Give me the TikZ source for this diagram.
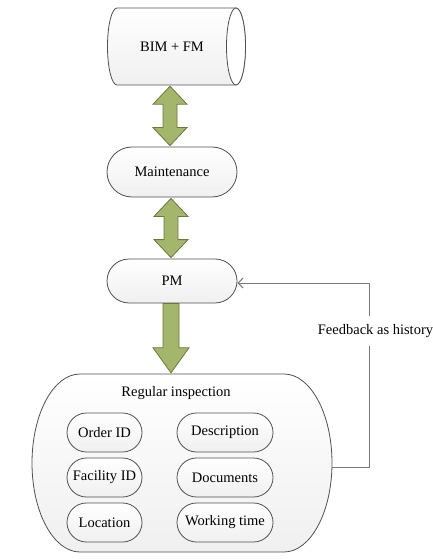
\documentclass[tikz,border=0pt]{standalone}
\usepackage{fontspec}
\setmainfont{Liberation Serif}
\usetikzlibrary{calc,arrows.meta}
\definecolor{arrfill}{RGB}{163,182,107}
\definecolor{arrdraw}{RGB}{105,120,60}
\definecolor{edge}{RGB}{80,80,80}
\definecolor{fbgray}{RGB}{120,120,120}
\newcommand{\dblarr}[2]{%
  \filldraw[arr] let \p1=(#1), \p2=(#2) in
  (\x1,\y1) -- (\x1+17bp,\y1-18bp) -- (\x1+7bp,\y1-18bp) -- (\x1+7bp,\y2+18bp)
  -- (\x1+17bp,\y2+18bp) -- (\x1,\y2) -- (\x1-17bp,\y2+18bp) -- (\x1-7bp,\y2+18bp)
  -- (\x1-7bp,\y1-18bp) -- (\x1-17bp,\y1-18bp) -- cycle;}
\newcommand{\sglarr}[2]{%
  \filldraw[arr] let \p1=(#1), \p2=(#2) in
  (\x1-8bp,\y1) -- (\x1+8bp,\y1) -- (\x1+8bp,\y2+25bp) -- (\x1+18bp,\y2+25bp)
  -- (\x1,\y2) -- (\x1-18bp,\y2+25bp) -- (\x1-8bp,\y2+25bp) -- cycle;}
\begin{document}
\begin{tikzpicture}[x=1bp,y=-1bp,
  font=\fontsize{14.5bp}{17bp}\selectfont,
  box/.style={draw=edge, line width=0.8bp, top color=white, bottom color=gray!12,
    rounded corners=#1, inner sep=0pt},
  arr/.style={fill=arrfill, draw=arrdraw, line width=0.8bp, line join=miter},
  fbline/.style={draw=fbgray, line width=1bp},
  shell/.style={draw=edge, line width=0.8bp}]
\useasboundingbox (0,0) rectangle (433,559);

% cylinder BIM + FM
\path[shell, top color=white, bottom color=gray!12]
  (236,8) -- (117,8) arc[start angle=90, end angle=270, x radius=9.5bp, y radius=38.5bp]
  -- (236,85) arc[start angle=270, end angle=450, x radius=9.5bp, y radius=38.5bp] -- cycle;
\draw[shell, fill=white] (236,46.5) ellipse[x radius=9.5bp, y radius=38.5bp];
\node[inner sep=0pt, minimum height=77bp] (bim) at (172,46.5) {BIM + FM};

\node[box=25bp, minimum width=130bp, minimum height=50bp] (maint) at (172,172) {Maintenance};
\node[box=22bp, minimum width=130bp, minimum height=44bp] (pm) at (172,281) {PM};

% regular inspection container (flat top, elliptic ends)
\path[shell, top color=white, bottom color=gray!12]
  (80,374) -- (284,374) arc[start angle=90, end angle=-90, x radius=48bp, y radius=89bp]
  -- (80,552) arc[start angle=270, end angle=90, x radius=48bp, y radius=89bp] -- cycle;
\node[inner sep=0pt, minimum width=300bp, minimum height=178bp] (insp) at (182,463) {};
\node (title) at (176,393) {Regular inspection};

\node[box=19.5bp, minimum width=75bp, minimum height=39bp] (order) at (104.5,432.5) {Order ID};
\node[box=19.5bp, minimum width=96bp, minimum height=39bp] (desc) at (225,432.5) {Description};
\node[box=19.5bp, minimum width=75bp, minimum height=39bp] (fac) at (104.5,477.5) {Facility ID};
\node[box=19.5bp, minimum width=96bp, minimum height=39bp] (docs) at (225,477.5) {Documents};
\node[box=19.5bp, minimum width=75bp, minimum height=39bp] (loc) at (104.5,522.5) {Location};
\node[box=19.5bp, minimum width=96bp, minimum height=39bp] (work) at (225,522.5) {Working time};

% green arrows
\dblarr{$(bim.south)+(-2,1)$}{$(maint.north)+(-2,-1)$}
\dblarr{$(maint.south)+(-1,1)$}{$(pm.north)+(-1,-1)$}
\sglarr{$(pm.south)+(-1,0)$}{$(pm.south|-insp.north)+(-1,-1)$}

% feedback
\coordinate (fbc) at (369,283);
\draw[fbline, -{Straight Barb[length=5bp,width=10bp]}]
  ($(insp.east)+(0,4)$) -| (fbc) -- (pm.east|-fbc);
\node[fill=white, inner xsep=1pt, inner ysep=8pt] (fbl) at (375.5,331) {Feedback as history};
\end{tikzpicture}
\end{document}
